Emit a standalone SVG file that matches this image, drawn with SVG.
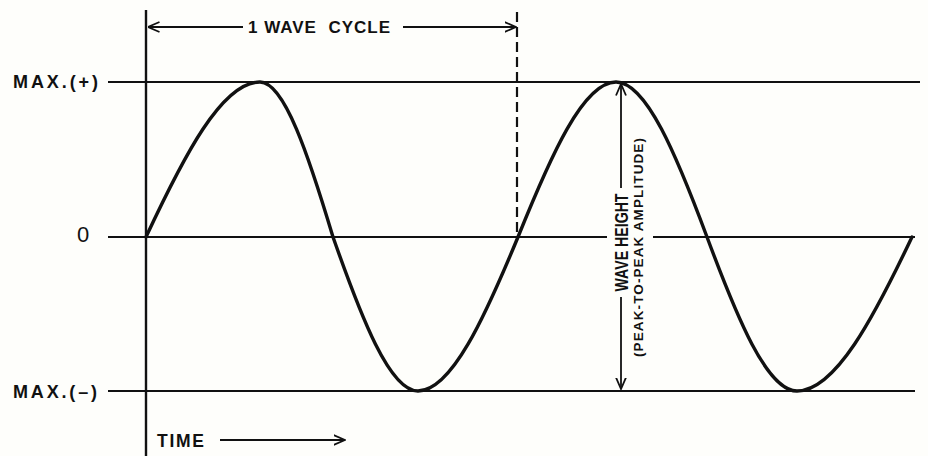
<svg xmlns="http://www.w3.org/2000/svg" width="928" height="456" viewBox="0 0 928 456">
  <style>
    .ln { stroke: #111; stroke-width: 2; fill: none; }
    .ax { stroke: #111; stroke-width: 2.4; fill: none; }
    .wave { stroke: #111; stroke-width: 3.4; fill: none; stroke-linecap: round; }
    .dash { stroke: #111; stroke-width: 2.2; fill: none; stroke-dasharray: 10 5; }
    .arrow { stroke: #111; stroke-width: 1.8; fill: none; }
    .lbl { font-family: "Liberation Sans", Arial, sans-serif; font-weight: bold; fill: #111; }
  </style>
  <defs>
    <marker id="head" viewBox="0 0 12 12" refX="11.5" refY="6" markerWidth="12" markerHeight="12" markerUnits="userSpaceOnUse" orient="auto-start-reverse">
      <path d="M0,1 L11.5,6 L0,11" fill="none" stroke="#111" stroke-width="1.8"/>
    </marker>
  </defs>
  <rect width="928" height="456" fill="#fefefb"/>

  <g id="grid">
    <line class="ln" x1="108" y1="82" x2="920" y2="82"/>
    <line class="ln" x1="108" y1="237" x2="607" y2="237"/>
    <line class="ln" x1="653" y1="237" x2="915" y2="237"/>
    <line class="ln" x1="108" y1="391" x2="915" y2="391"/>
    <line class="ax" x1="146" y1="10" x2="146" y2="456"/>
    <line class="dash" x1="517" y1="12" x2="517" y2="237"/>
  </g>

  <g id="wave">
    <path class="wave" d="M146,237 C184,155.8 222,82 260,82 C284.3,82 308.7,155.8 333,237 C361.3,317.6 389.7,391 418,391 C451.3,391 484.7,317.6 518,237 C550.7,155.8 583.3,82 616,82 C646.3,82 676.7,155.8 707,237 C737,317.6 767,391 797,391 C835.3,391 873.7,317.6 912,237"/>
  </g>

  <g id="connectors">
    <line class="arrow" x1="243" y1="27" x2="148" y2="27" marker-end="url(#head)"/>
    <line class="arrow" x1="403" y1="27" x2="516" y2="27" marker-end="url(#head)"/>
    <line class="arrow" x1="621" y1="188" x2="621" y2="84" marker-end="url(#head)"/>
    <line class="arrow" x1="621" y1="297" x2="621" y2="389" marker-end="url(#head)"/>
    <line class="arrow" x1="220" y1="440" x2="345" y2="440" marker-end="url(#head)"/>
  </g>

  <g id="label-max-plus">
    <text class="lbl" x="13" y="88" font-size="18" textLength="85">MAX.(+)</text>
  </g>
  <g id="label-zero">
    <text x="77" y="242" font-family="Liberation Sans, Arial, sans-serif" font-size="22" fill="#111">0</text>
  </g>
  <g id="label-max-minus">
    <text class="lbl" x="13" y="397.5" font-size="18" textLength="84">MAX.(–)</text>
  </g>
  <g id="label-time">
    <text class="lbl" x="157" y="446.5" font-size="17.5" textLength="47">TIME</text>
  </g>
  <g id="label-cycle">
    <text class="lbl" x="248" y="32.5" font-size="17" textLength="142" xml:space="preserve">1 WAVE  CYCLE</text>
  </g>
  <g id="label-wave-height">
    <text class="lbl" transform="translate(628,242.5) rotate(-90)" text-anchor="middle" font-size="17.5" textLength="98" lengthAdjust="spacingAndGlyphs">WAVE HEIGHT</text>
    <text class="lbl" transform="translate(643,247.5) rotate(-90)" text-anchor="middle" font-size="13.5" textLength="219">(PEAK-TO-PEAK AMPLITUDE)</text>
  </g>
</svg>
